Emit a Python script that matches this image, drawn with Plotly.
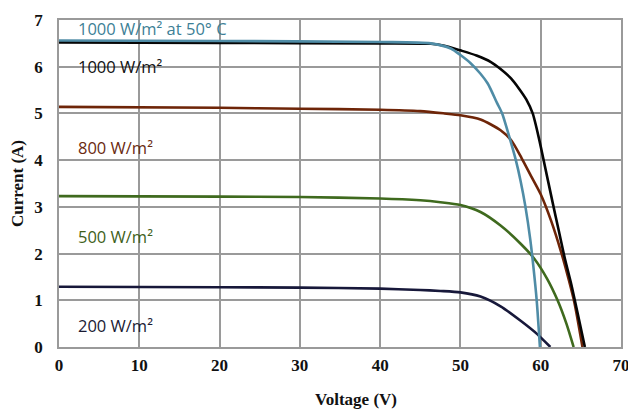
import plotly.graph_objects as go

# Data (Voltage V, Current A)
v_1000_50 = [0, 20, 40, 46.3, 48.8, 50, 51.3, 52.5, 53.4, 54.6, 55.2, 56.0, 56.9, 57.5, 58.1, 58.7, 59.1, 59.5, 59.9]
i_1000_50 = [6.56, 6.55, 6.53, 6.5, 6.39, 6.25, 6.07, 5.85, 5.64, 5.21, 5.0, 4.55, 4.0, 3.55, 3.0, 2.3, 1.7, 1.0, 0.0]

v_1000 = [0, 20, 40, 46.3, 48, 50, 52, 53.8, 55, 56.3, 57.3, 58.2, 59.0, 59.8, 60.3, 61.5, 62.3, 63.0, 63.8, 64.6, 65.5]
i_1000 = [6.52, 6.51, 6.5, 6.49, 6.45, 6.35, 6.24, 6.1, 5.95, 5.75, 5.53, 5.3, 5.0, 4.45, 4.05, 3.08, 2.45, 1.9, 1.35, 0.72, 0.0]

v_800 = [0, 20, 30, 40, 45, 48, 50, 52.5, 55, 56.3, 57.6, 58.8, 60.0, 61.3, 62.6, 63.4, 64.2, 65.2]
i_800 = [5.14, 5.12, 5.1, 5.08, 5.05, 5.0, 4.96, 4.87, 4.64, 4.43, 4.05, 3.66, 3.27, 2.7, 2.0, 1.5, 0.95, 0.0]

v_500 = [0, 20, 30, 40, 45, 47.5, 50, 52.5, 55, 57.5, 59.2, 60.8, 62.1, 63.2, 64.1]
i_500 = [3.23, 3.22, 3.21, 3.18, 3.14, 3.1, 3.04, 2.89, 2.6, 2.21, 1.89, 1.46, 1.0, 0.5, 0.0]

v_200 = [0, 20, 30, 40, 45, 47.5, 50, 52.5, 55, 57.5, 59.6, 60.5, 61.2]
i_200 = [1.29, 1.28, 1.27, 1.25, 1.22, 1.2, 1.17, 1.08, 0.87, 0.56, 0.27, 0.12, 0.0]

labels = ["1000 W/m² at 50° C", "1000 W/m²", "800 W/m²", "500 W/m²", "200 W/m²"]
label_y = [6.82, 6.01, 4.28, 2.37, 0.46]

x_ticks = [0, 10, 20, 30, 40, 50, 60, 70]
y_ticks = [0, 1, 2, 3, 4, 5, 6, 7]

series = [
    (v_800, i_800, "#6e2508"),
    (v_500, i_500, "#3f6a1e"),
    (v_200, i_200, "#17183a"),
    (v_1000, i_1000, "#050505"),
    (v_1000_50, i_1000_50, "#4f8ca6"),
]
label_colors = ["#3d7f96", "#111111", "#6a2a10", "#3f5f1a", "#1a1a33"]

fig = go.Figure()
for vx, iy, col in series:
    fig.add_trace(go.Scatter(x=vx, y=iy, mode="lines",
                             line=dict(color=col, width=2.6, shape="spline", smoothing=0.7),
                             showlegend=False, hoverinfo="skip"))

for txt, yv, col in zip(labels, label_y, label_colors):
    fig.add_annotation(x=2.1, y=yv, text=txt, showarrow=False, xanchor="left", yanchor="middle",
                       font=dict(family="Open Sans", size=16.5, color=col))

serif = "Liberation Serif"
tick_font = dict(family=serif, size=17, color="#111111", weight="bold")

W, H = 628, 409
ML, MR, MT, MB = 59, 7, 20, 62
pw, ph = W - ML - MR, H - MT - MB
fig.add_annotation(x=(356 - ML) / pw, y=(H - MB - 399) / ph, xref="paper", yref="paper",
                   text="Voltage (V)", showarrow=False, xanchor="center", yanchor="middle",
                   font=dict(family=serif, size=17, color="#111111", weight="bold"))
fig.update_layout(
    width=W, height=H,
    margin=dict(l=ML, r=MR, t=MT, b=MB),
    paper_bgcolor="white", plot_bgcolor="white",
    xaxis=dict(range=[0, 70], tickvals=x_ticks, showgrid=True, gridcolor="#9a9a9a", gridwidth=1.6,
               zeroline=False, showline=True, linecolor="#9a9a9a", linewidth=1.6, mirror=True,
               tickfont=tick_font, ticks="", automargin=False, ticklabelstandoff=2,
               ticklabeloverflow="allow"),
    yaxis=dict(range=[0, 7], tickvals=y_ticks, showgrid=True, gridcolor="#9a9a9a", gridwidth=1.6,
               zeroline=False, showline=True, linecolor="#9a9a9a", linewidth=1.6, mirror=True,
               tickfont=tick_font, ticks="", automargin=False, ticklabelstandoff=11,
               ticklabeloverflow="allow",
               title=dict(text="Current (A)", font=dict(family=serif, size=17, color="#111111", weight="bold"),
                          standoff=6)),
)

fig.write_html("out.html", config={"displayModeBar": False},
               post_script="document.body.style.margin='0';document.body.style.overflow='hidden';")
